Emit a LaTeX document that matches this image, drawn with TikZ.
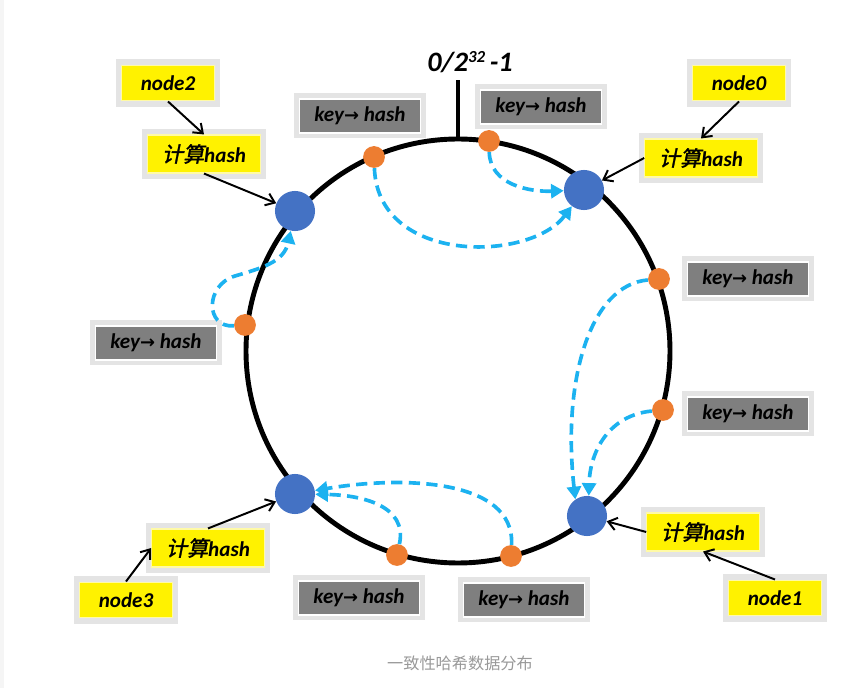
\documentclass[tikz,border=0pt]{standalone}
\usepackage{fontspec}
\usepackage{xcolor}
\usepackage{tikz}
\usetikzlibrary{arrows.meta}
\setmainfont{Carlito}
\newfontfamily\cjkfont{Noto Sans CJK SC}
\newfontfamily\cjkbold{Noto Sans CJK SC}[FakeSlant=0.2, FakeBold=1.5]
\newfontfamily\symfont{DejaVu Sans}[Scale=0.85]

\definecolor{nodeblue}{HTML}{4472C4}
\definecolor{dotorange}{HTML}{ED7D31}
\definecolor{dashblue}{HTML}{1CB2F0}
\definecolor{keygray}{HTML}{7F7F7F}
\definecolor{glowgray}{HTML}{E4E4E4}

\newcommand\khlabel{key{\symfont →} hash}
\newcommand\calclabel{{\cjkbold\mdseries\upshape 计算}hash}

\tikzset{
  glow/.style={preaction={draw=glowgray, line width=8pt}},
  keybox/.style={glow, fill=keygray, draw=white, line width=1pt, inner sep=0pt,
    minimum width=86pt, minimum height=24pt, font=\fontsize{15}{18}\selectfont\bfseries\itshape},
  calcbox/.style={glow, fill=yellow, draw=yellow!35!white, line width=0.8pt, inner sep=0pt,
    minimum width=80pt, minimum height=27pt, font=\fontsize{15}{18}\selectfont\bfseries\itshape},
  namebox/.style={calcbox, minimum width=66pt, minimum height=25.5pt},
  server/.style={circle, fill=nodeblue, minimum size=28.5pt, inner sep=0pt},
  keydot/.style={circle, fill=dotorange, minimum size=15.5pt, inner sep=0pt},
  lookup/.style={dashblue, line width=2.6pt, dash pattern=on 8pt off 4.5pt, -{Triangle[length=9pt,width=10pt]}},
  pointer/.style={line width=1.4pt, -{Straight Barb[length=6pt,width=9pt]}}
}

\begin{document}
\begin{tikzpicture}[x=0.025cm, y=-0.025cm]
    \useasboundingbox (0,0) rectangle (851,688);
    % Bordo a sinistra
    \fill[black!4] (0,0) rectangle (4,688);

    % Anello
    \draw[line width=3.5pt] (458,351) circle[radius=212];
    \coordinate (ring top) at (458,140);
    \coordinate (tick top) at (458,80);
    \draw[line width=2.8pt] (ring top) -- (tick top);
    \node[font=\fontsize{20}{24}\selectfont\bfseries\itshape] (zero) at (470,62)
        {0/2\raisebox{0.7ex}{\fontsize{12}{12}\selectfont 32}\,-1};

    % Server
    \node[server] (n0) at (584,190) {};
    \node[server] (n1) at (587,516) {};
    \node[server] (n2) at (295,211) {};
    \node[server] (n3) at (295,494) {};

    % Chiavi
    \node[keydot] (k1) at (374,157) {};
    \node[keydot] (k2) at (489,141) {};
    \node[keydot] (k3) at (659,279) {};
    \node[keydot] (k4) at (663,410) {};
    \node[keydot] (k5) at (245,325) {};
    \node[keydot] (k6) at (397,555) {};
    \node[keydot] (k7) at (511,556) {};

    % Etichette key -> hash
    \node[keybox] (kb1) at (360,116) {\khlabel};
    \node[keybox] (kb2) at (541,107) {\khlabel};
    \node[keybox] (kb3) at (748,279) {\khlabel};
    \node[keybox] (kb4) at (748,414) {\khlabel};
    \node[keybox] (kb5) at (156,343) {\khlabel};
    \node[keybox] (kb6) at (359,598) {\khlabel};
    \node[keybox] (kb7) at (524,600) {\khlabel};

    % Nomi e calcolo hash
    \node[namebox] (lbl0) at (739,83) {node0};
    \node[calcbox] (h0) at (701,158) {\calclabel};
    \node[namebox] (lbl1) at (775,598) {node1};
    \node[calcbox] (h1) at (703,532) {\calclabel};
    \node[namebox] (lbl2) at (168,83) {node2};
    \node[calcbox] (h2) at (204,154) {\calclabel};
    \node[namebox] (lbl3) at (126,600) {node3};
    \node[calcbox] (h3) at (208,548) {\calclabel};

    \draw[pointer] (lbl0.south) -- (h0.north);
    \draw[pointer] (h0.west) -- (n0);
    \draw[pointer] (lbl1.north) -- (h1.south);
    \draw[pointer] (h1.west) -- (n1);
    \draw[pointer] (lbl2.south) -- (h2.north);
    \draw[pointer] (h2.south) -- (n2);
    \draw[pointer] (lbl3.north) -- (h3.west);
    \draw[pointer] (h3.north) -- (n3);

    % Assegnazione delle chiavi
    \coordinate (loop) at (235,276);
    \draw[lookup] (k1) .. controls (378,265) and (530,262) .. (n0);
    \draw[lookup] (k2) .. controls (490,185) and (530,192) .. (n0);
    \draw[lookup] (k3) .. controls (590,285) and (562,380) .. (n1.125);
    \draw[lookup] (k4) .. controls (610,415) and (590,450) .. (n1.85);
    \draw[lookup] (k5) .. controls (205,328) and (205,285) .. (loop)
        .. controls (262,268) and (284,262) .. (n2);
    \draw[lookup] (k6) .. controls (408,505) and (360,495) .. (n3);
    \draw[lookup] (k7) .. controls (515,478) and (400,476) .. (n3);

    % Didascalia
    \node[font=\cjkfont\fontsize{11.5}{14}\selectfont, text=black!40] (caption) at (460,663)
        {一致性哈希数据分布};
\end{tikzpicture}
\end{document}
